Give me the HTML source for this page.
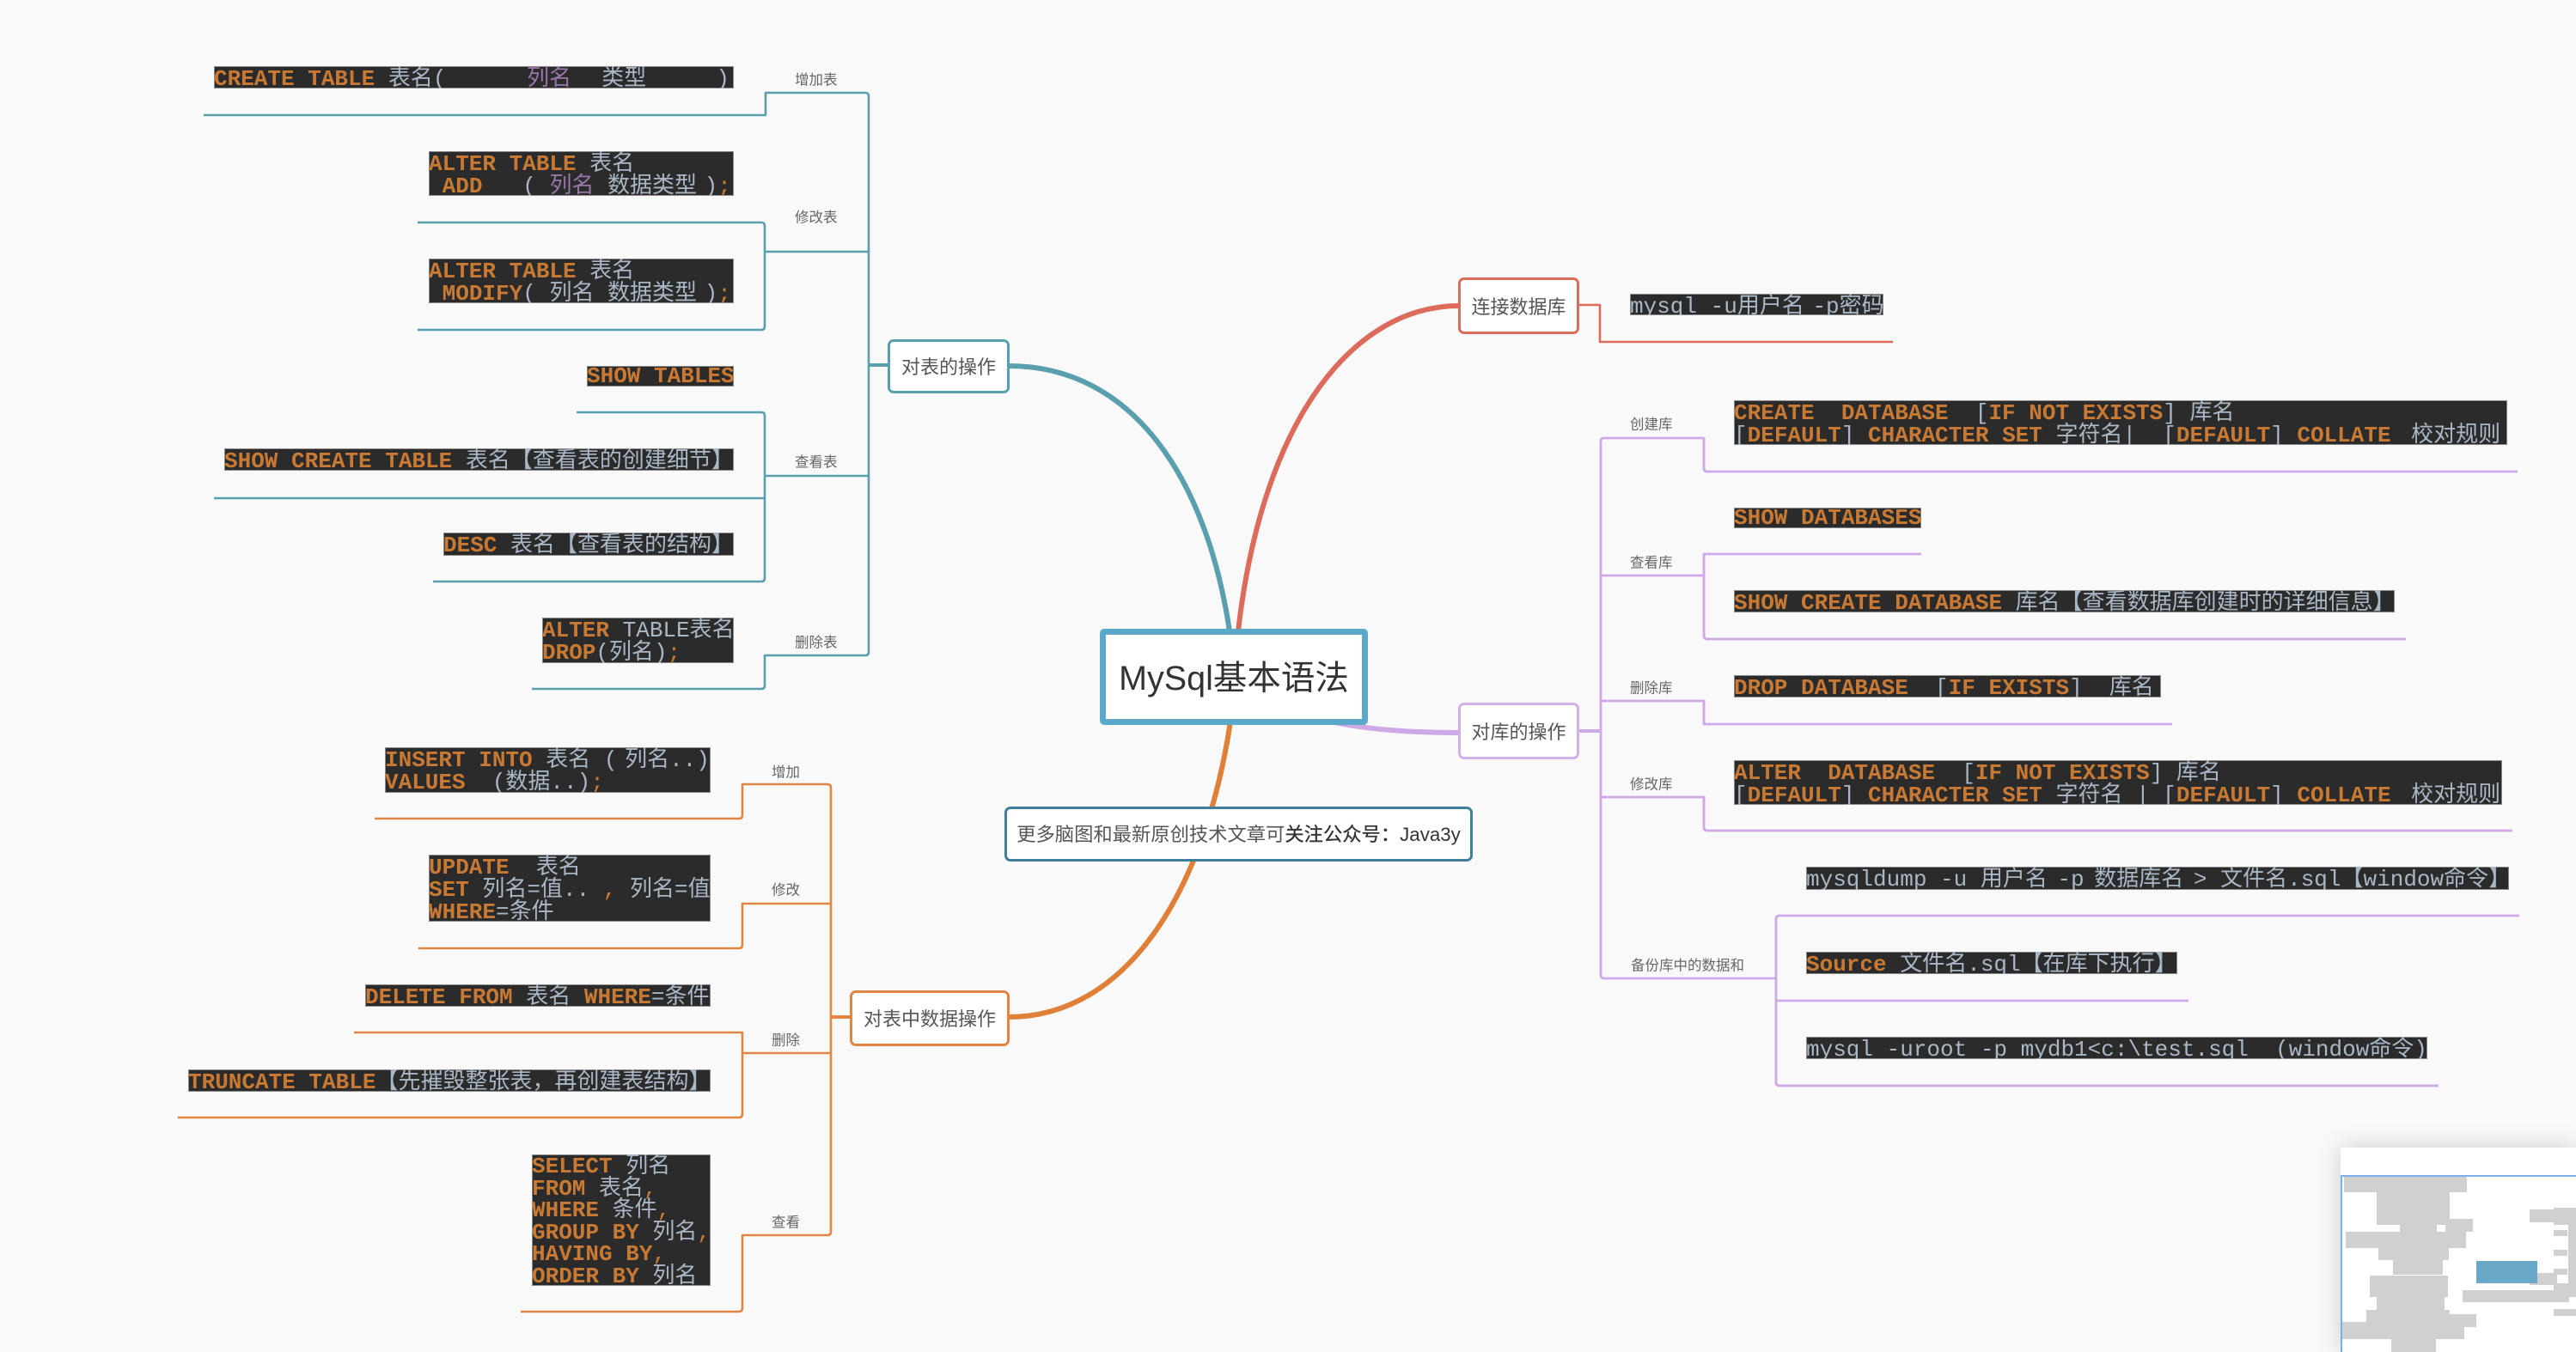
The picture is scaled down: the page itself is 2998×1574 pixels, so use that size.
<!DOCTYPE html>
<html lang="zh"><head><meta charset="utf-8"><title>MySql基本语法</title>
<style>
html,body{margin:0;padding:0;background:#f9f9f9}
#c{position:relative;width:2998px;height:1574px;overflow:hidden;background:#f9f9f9}
svg{position:absolute;left:0;top:0}
.b{position:absolute;box-sizing:border-box;background:#2b2b2b;box-shadow:inset 0 0 0 1px #8a8a8a;font:26px/26px "Liberation Mono","Noto Sans CJK SC",monospace;color:#a9b7c6;white-space:pre;overflow:hidden;padding-top:2px}
.b b{color:#c87a34;font-weight:bold}
.b i{color:#c87a34;font-style:normal}
.b u{color:#9876aa;text-decoration:none}
.b s{text-decoration:none;margin-left:-7px}
.b em{font-style:normal;margin-left:8px}
.b q{quotes:none;margin-left:-4px}
.l{position:absolute;font:16.5px/20px "Liberation Sans","Noto Sans CJK SC",sans-serif;color:#666;white-space:pre;transform:translateY(-9.5px)}
.n{position:absolute;box-sizing:border-box;background:#fff;border:3px solid;border-radius:7px;font:22px/1 "Liberation Sans","Noto Sans CJK SC",sans-serif;color:#555;display:flex;align-items:center;justify-content:center;white-space:pre;padding-top:3px}
.g{position:absolute;background:#d0d0d0}
</style></head><body><div id="c">
<svg width="2998" height="1574" viewBox="0 0 2998 1574" fill="none" stroke-linejoin="round">
<g stroke="#5a9fae" stroke-width="2.6">
<path d="M237 134H891V108H1007Q1011 108 1011 112V759Q1011 763 1007 763H890V798Q890 802 886 802H619"/>
<path d="M486 259H886Q890 259 890 263V380Q890 384 886 384H486M890 293H1011"/>
<path d="M671 480H886Q890 480 890 484V673Q890 677 886 677H504M249 580H890M890 554H1011"/>
</g>
<path d="M1011 425H1036" stroke="#5a9fae" stroke-width="4"/>
<path d="M1174 426C1320 426 1405 560 1431 735" stroke="#5a9fae" stroke-width="6"/>
<g stroke="#e08542" stroke-width="2.6">
<path d="M436 953H860Q864 953 864 949V913H963Q967 913 967 917V1434Q967 1438 963 1438H864V1523Q864 1527 860 1527H606"/>
<path d="M487 1104H860Q864 1104 864 1100V1052H967"/>
<path d="M412 1202H864V1297Q864 1301 860 1301H207M864 1226H967"/>
</g>
<path d="M967 1184H991" stroke="#e08542" stroke-width="4"/>
<path d="M1174 1184C1310 1184 1402 1040 1432 840" stroke="#e08038" stroke-width="6"/>
<path d="M1698 356C1580 356 1470 480 1441 735" stroke="#dc6b5b" stroke-width="6"/>
<path d="M1540 838Q1600 853 1698 853" stroke="#cfa8e8" stroke-width="6"/>
<g stroke="#dc6b5b" stroke-width="2.6"><path d="M1837 355H1862V398H2203"/></g>
<g stroke="#cfa8e8" stroke-width="2.8">
<path d="M2930 549H1987Q1983 549 1983 545V510H1867Q1863 510 1863 514V1135Q1863 1139 1867 1139H2067"/>
<path d="M2236 645H1983V740Q1983 744 1987 744H2800M1863 670H1983"/>
<path d="M1863 816H1983V843H2528"/>
<path d="M1863 928H1983V963Q1983 967 1987 967H2924"/>
<path d="M2932 1066H2071Q2067 1066 2067 1070V1260Q2067 1264 2071 1264H2838M2067 1165H2547"/>
</g>
<path d="M1837 851H1863" stroke="#cfa8e8" stroke-width="4"/>
</svg>

<div class="b" style="left:249px;top:77px;width:605px;height:26px"><b>CREATE TABLE</b> 表名(      <u>列名</u>  <span style="margin-left:4px">类型</span>     <s style="margin-left:3px">)</s></div>
<div class="b" style="left:499px;top:176px;width:355px;height:52px"><b>ALTER TABLE</b> 表名
 <b>ADD</b>   ( <u>列名</u> 数据类型 <s>)</s><i>;</i></div>
<div class="b" style="left:499px;top:301px;width:355px;height:52px"><b>ALTER TABLE</b> 表名
 <b>MODIFY</b>( 列名 数据类型 <s>)</s><i>;</i></div>
<div class="b" style="left:683px;top:426px;width:171px;height:24px;line-height:24px;padding-top:0"><b>SHOW TABLES</b></div>
<div class="b" style="left:261px;top:522px;width:593px;height:26px"><b>SHOW CREATE TABLE</b> 表名【查看表的创建细节】</div>
<div class="b" style="left:516px;top:620px;width:338px;height:27px"><b>DESC</b> 表名【查看表的结构】</div>
<div class="b" style="left:631px;top:719px;width:223px;height:53px"><b>ALTER</b> TABLE表名
<b>DROP</b>(列名)<i>;</i></div>

<div class="b" style="left:448px;top:870px;width:379px;height:53px"><b>INSERT INTO</b> 表名 ( <s>列名</s>..)
<b>VALUES</b>  (数据..)<i>;</i></div>
<div class="b" style="left:499px;top:995px;width:328px;height:78px"><b>UPDATE</b>  表名
<b>SET</b> 列名=值.. <i>,</i> 列名=值
<b>WHERE</b>=条件</div>
<div class="b" style="left:425px;top:1146px;width:402px;height:26px"><b>DELETE FROM</b> 表名 <b>WHERE</b>=条件</div>
<div class="b" style="left:219px;top:1245px;width:608px;height:26px"><b>TRUNCATE TABLE</b>【先摧毁整张表，再创建表结构】</div>
<div class="b" style="left:619px;top:1344px;width:208px;height:153px;line-height:25.5px"><b>SELECT</b> 列名
<b>FROM</b> 表名<i>,</i>
<b>WHERE</b> 条件<i>,</i>
<b>GROUP BY</b> 列名<i>,</i>
<b>HAVING BY</b><i>,</i>
<b>ORDER BY</b> 列名</div>

<div class="b" style="left:1897px;top:342px;width:295px;height:25px">mysql -u用户名 <q style="margin-left:-6px">-p</q>密码</div>
<div class="b" style="left:2018px;top:466px;width:900px;height:52px"><b>CREATE  DATABASE</b>  [<b>IF NOT EXISTS</b>] 库名
[<b>DEFAULT</b>] <b>CHARACTER SET</b> 字符名|  [<b>DEFAULT</b>] <b>COLLATE</b> <em>校对规则</em></div>
<div class="b" style="left:2018px;top:591px;width:218px;height:24px;line-height:24px;padding-top:0"><b>SHOW DATABASES</b></div>
<div class="b" style="left:2018px;top:687px;width:769px;height:26px"><b>SHOW CREATE DATABASE</b> 库名【查看数据库创建时的详细信息】</div>
<div class="b" style="left:2018px;top:786px;width:497px;height:26px"><b>DROP DATABASE</b>  [<b>IF EXISTS</b>]  库名</div>
<div class="b" style="left:2018px;top:885px;width:894px;height:52px"><b>ALTER  DATABASE</b>  [<b>IF NOT EXISTS</b>] 库名
[<b>DEFAULT</b>] <b>CHARACTER SET</b> 字符名 | [<b>DEFAULT</b>] <b>COLLATE</b> <em>校对规则</em></div>
<div class="b" style="left:2102px;top:1009px;width:818px;height:27px">mysqldump -u 用户名 <q>-p</q> <q>数据库名</q> <q>&gt;</q> 文件名.sql【window命令】</div>
<div class="b" style="left:2102px;top:1108px;width:432px;height:26px"><b>Source</b> 文件名.sql【在库下执行】</div>
<div class="b" style="left:2102px;top:1207px;width:723px;height:26px">mysql -uroot -p mydb1&lt;c:\test.sql  (window命令)</div>

<div class="l" style="left:925px;top:93px">增加表</div>
<div class="l" style="left:925px;top:253px">修改表</div>
<div class="l" style="left:925px;top:538px">查看表</div>
<div class="l" style="left:925px;top:748px">删除表</div>
<div class="l" style="left:898px;top:899px">增加</div>
<div class="l" style="left:898px;top:1036px">修改</div>
<div class="l" style="left:898px;top:1211px">删除</div>
<div class="l" style="left:898px;top:1423px">查看</div>
<div class="l" style="left:1897px;top:494px">创建库</div>
<div class="l" style="left:1897px;top:655px">查看库</div>
<div class="l" style="left:1897px;top:801px">删除库</div>
<div class="l" style="left:1897px;top:913px">修改库</div>
<div class="l" style="left:1898px;top:1124px">备份库中的数据和</div>

<div class="n" style="left:1280px;top:732px;width:312px;height:112px;border:7px solid #5ba8c9;border-radius:5px;font:39.5px/1 'Liberation Sans','Noto Sans CJK SC',sans-serif;color:#333;padding-top:5px">MySql基本语法</div>
<div class="n" style="left:1033px;top:395px;width:142px;height:63px;border-color:#5a9fae">对表的操作</div>
<div class="n" style="left:989px;top:1153px;width:186px;height:65px;border-color:#e08542">对表中数据操作</div>
<div class="n" style="left:1697px;top:323px;width:141px;height:66px;border-color:#dc6b5b">连接数据库</div>
<div class="n" style="left:1697px;top:818px;width:141px;height:66px;border-color:#d4b0ea">对库的操作</div>
<div class="n" style="left:1169px;top:939px;width:545px;height:64px;border-color:#3f7f9c;font-size:22.3px;padding-top:3px">更多脑图和最新原创技术文章可<span style="color:#333;-webkit-text-stroke:.3px #333">关注公众号：</span><span style="color:#333">Java3y</span></div>

<div style="position:absolute;left:2724px;top:1336px;width:274px;height:238px;background:#fff;box-shadow:0 0 26px rgba(0,0,0,.18);overflow:hidden">
<div style="position:absolute;left:0;top:32px;width:274px;height:2px;background:#7ab0e6"></div>
<div style="position:absolute;left:0;top:32px;width:2px;height:206px;background:#7ab0e6"></div>
<div class="g" style="left:4px;top:34px;width:143px;height:18px"></div>
<div class="g" style="left:42px;top:51px;width:85px;height:39px"></div>
<div class="g" style="left:69px;top:89px;width:43px;height:9px"></div>
<div class="g" style="left:122px;top:83px;width:32px;height:15px"></div>
<div class="g" style="left:6px;top:98px;width:140px;height:19px"></div>
<div class="g" style="left:44px;top:116px;width:82px;height:15px"></div>
<div class="g" style="left:61px;top:130px;width:58px;height:18px"></div>
<div class="g" style="left:34px;top:149px;width:91px;height:25px"></div>
<div class="g" style="left:42px;top:173px;width:79px;height:16px"></div>
<div class="g" style="left:30px;top:189px;width:97px;height:14px"></div>
<div class="g" style="left:127px;top:194px;width:31px;height:15px"></div>
<div class="g" style="left:2px;top:203px;width:156px;height:6px"></div>
<div class="g" style="left:2px;top:209px;width:142px;height:14px"></div>
<div class="g" style="left:59px;top:223px;width:52px;height:15px"></div>
<div class="g" style="left:220px;top:72px;width:54px;height:15px"></div>
<div class="g" style="left:248px;top:70px;width:26px;height:20px"></div>
<div class="g" style="left:248px;top:96px;width:16px;height:7px"></div>
<div class="g" style="left:248px;top:119px;width:16px;height:7px"></div>
<div class="g" style="left:248px;top:141px;width:16px;height:7px"></div>
<div class="g" style="left:265px;top:90px;width:9px;height:84px"></div>
<div class="g" style="left:220px;top:146px;width:32px;height:14px"></div>
<div class="g" style="left:248px;top:158px;width:17px;height:8px"></div>
<div class="g" style="left:142px;top:166px;width:124px;height:14px"></div>
<div class="g" style="left:248px;top:188px;width:26px;height:8px"></div>
<div style="position:absolute;left:158px;top:132px;width:71px;height:26px;background:#6aa8c9"></div>
</div>
</div></body></html>
